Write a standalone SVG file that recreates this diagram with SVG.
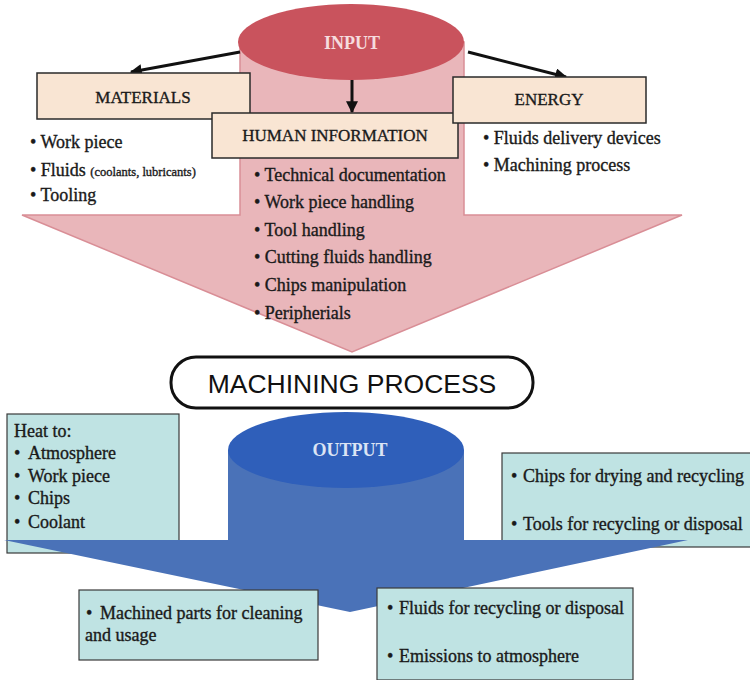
<svg xmlns="http://www.w3.org/2000/svg" width="750" height="680" viewBox="0 0 750 680">
  <defs>
    <marker id="head" viewBox="0 0 10 10" refX="9" refY="5" markerWidth="4" markerHeight="4" orient="auto" markerUnits="strokeWidth">
      <path d="M0,0 L10,5 L0,10 z" fill="#111"/>
    </marker>
    <style>
      .serif { font-family: "Liberation Serif", "Times New Roman", serif; fill: #1a1a1a; stroke: #1a1a1a; stroke-width: 0.35; }
      .hdr { font-size: 17px; }
      .item { font-size: 18px; }
      .small { font-size: 12.5px; }
      .peach { fill: #f9e5d3; stroke: #2a2a2a; stroke-width: 1.5; }
      .cyan { fill: #bfe3e3; stroke: #3a3a3a; stroke-width: 1.2; }
      .conn { stroke: #111; stroke-width: 3; fill: none; marker-end: url(#head); }
      .cap { font-size: 18px; font-weight: bold; stroke: none; }
    </style>
  </defs>
  <rect width="750" height="680" fill="#ffffff"/>

  <!-- input arrow: cylinder body, arrowhead and top -->
  <g id="input">
    <path d="M240,42 L240,215 L22,215 L352,352 L682,215 L464,215 L464,42 Z" fill="#e9b6ba" stroke="#d98e96" stroke-width="1.5"/>
    <ellipse cx="351" cy="42" rx="113" ry="38" fill="#c9535d"/>
    <text x="352" y="49" text-anchor="middle" class="serif cap" style="fill:#f6dcde">INPUT</text>
  </g>

  <g id="connectors">
    <line class="conn" x1="240" y1="52" x2="131" y2="72"/>
    <line class="conn" x1="352" y1="80" x2="352" y2="112"/>
    <line class="conn" x1="468" y1="52" x2="566" y2="77"/>
  </g>

  <g id="materials">
    <rect class="peach" x="37" y="73" width="213" height="46"/>
    <text x="143" y="103" text-anchor="middle" class="serif hdr">MATERIALS</text>
    <text x="30" y="148" class="serif item">• Work piece</text>
    <text x="30" y="176" class="serif item">• Fluids <tspan class="small">(coolants, lubricants)</tspan></text>
    <text x="30" y="201" class="serif item">• Tooling</text>
  </g>

  <g id="human-information">
    <rect class="peach" x="212" y="113" width="246" height="45"/>
    <text x="335" y="141" text-anchor="middle" class="serif hdr">HUMAN INFORMATION</text>
    <text x="254" y="181" class="serif item">• Technical documentation</text>
    <text x="254" y="208" class="serif item">• Work piece handling</text>
    <text x="254" y="236" class="serif item">• Tool handling</text>
    <text x="254" y="263" class="serif item">• Cutting fluids handling</text>
    <text x="254" y="291" class="serif item">• Chips manipulation</text>
    <text x="254" y="319" class="serif item">• Peripherials</text>
  </g>

  <g id="energy">
    <rect class="peach" x="453" y="77" width="193" height="46"/>
    <text x="549" y="105" text-anchor="middle" class="serif hdr">ENERGY</text>
    <text x="483" y="144" class="serif item">• Fluids delivery devices</text>
    <text x="483" y="171" class="serif item">• Machining process</text>
  </g>

  <g id="machining-process">
    <rect x="171" y="357" width="362" height="51" rx="25" ry="25" fill="#ffffff" stroke="#111" stroke-width="3"/>
    <text x="352" y="393" text-anchor="middle" font-family="Liberation Sans, Arial, sans-serif" font-size="26.5" fill="#111">MACHINING PROCESS</text>
  </g>

  <!-- output boxes that sit behind the output arrow -->
  <g id="heat">
    <rect class="cyan" x="7" y="414" width="172" height="139"/>
    <text x="14" y="437" class="serif item">Heat to:</text>
    <text y="459" class="serif item"><tspan x="14">•</tspan><tspan x="28">Atmosphere</tspan></text>
    <text y="482" class="serif item"><tspan x="14">•</tspan><tspan x="28">Work piece</tspan></text>
    <text y="504" class="serif item"><tspan x="14">•</tspan><tspan x="28">Chips</tspan></text>
    <text y="528" class="serif item"><tspan x="14">•</tspan><tspan x="28">Coolant</tspan></text>
  </g>

  <g id="chips-tools">
    <rect class="cyan" x="502" y="453" width="260" height="94"/>
    <text y="482" class="serif item"><tspan x="511">•</tspan><tspan x="523">Chips for drying and recycling</tspan></text>
    <text y="530" class="serif item"><tspan x="511">•</tspan><tspan x="523">Tools for recycling or disposal</tspan></text>
  </g>

  <!-- output arrow: cylinder body, arrowhead and top -->
  <g id="output">
    <path d="M228,450 L228,540 L4,540 L350,612 L688,540 L464,540 L464,450 Z" fill="#4a72b8"/>
    <ellipse cx="346" cy="450" rx="118" ry="38" fill="#2f5fba"/>
    <text x="350" y="456" text-anchor="middle" class="serif cap" style="fill:#dce4f4">OUTPUT</text>
  </g>

  <g id="machined-parts">
    <rect class="cyan" x="79" y="590" width="239" height="70"/>
    <text y="619" class="serif item"><tspan x="86">•</tspan><tspan x="100">Machined parts for cleaning</tspan></text>
    <text x="85" y="641" class="serif item">and usage</text>
  </g>

  <g id="fluids-emissions">
    <rect class="cyan" x="377" y="588" width="256" height="92"/>
    <text y="614" class="serif item"><tspan x="387">•</tspan><tspan x="399">Fluids for recycling or disposal</tspan></text>
    <text y="662" class="serif item"><tspan x="387">•</tspan><tspan x="399">Emissions to atmosphere</tspan></text>
  </g>
</svg>
